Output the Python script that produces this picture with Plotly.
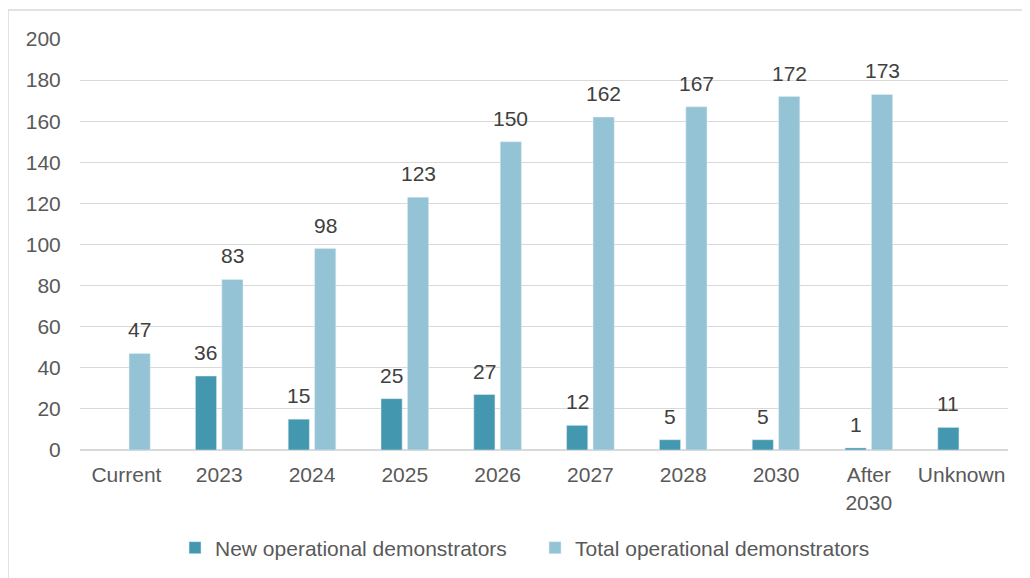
import plotly.graph_objects as go

categories = ["Current", "2023", "2024", "2025", "2026", "2027", "2028", "2030", "After<br>2030", "Unknown"]
new_demo = [None, 36, 15, 25, 27, 12, 5, 5, 1, 11]
total_demo = [47, 83, 98, 123, 150, 162, 167, 172, 173, None]

FONT = "Liberation Sans, Arial, sans-serif"
TEXT_COLOR = "#404040"
AXIS_COLOR = "#595959"
GRID = "#D9D9D9"

fig = go.Figure()

fig.add_trace(go.Bar(
    x=categories, y=new_demo, name="New operational demonstrators",
    marker_color="#4397AF",
))
fig.add_trace(go.Bar(
    x=categories, y=total_demo, name="Total operational demonstrators",
    marker_color="#93C3D4",
))

# value labels above each bar (category index, offset to the grouped bar)
annotations = []
for values, shift in [(new_demo, -13.3), (total_demo, 13.3)]:
    for i, val in enumerate(values):
        if val is None:
            continue
        annotations.append(dict(
            x=i, y=val, xref="x", yref="y", text=str(val), showarrow=False,
            xshift=shift, yshift=10, yanchor="bottom",
            font=dict(size=21, color=TEXT_COLOR, family=FONT),
        ))

# page body adds an 8px margin, so the figure is sized 8px smaller
fig.update_layout(
    width=1022, height=570,
    margin=dict(l=72, r=22, t=31, b=128, autoexpand=False),
    barmode="group", bargap=0.43, bargroupgap=0.2,
    plot_bgcolor="white", paper_bgcolor="white",
    font=dict(family=FONT, size=21, color=AXIS_COLOR),
    showlegend=True,
    legend=dict(
        orientation="h", x=0.1024, xanchor="left", y=-0.2384, yanchor="middle",
        font=dict(size=21, color=AXIS_COLOR), itemwidth=30, traceorder="normal",
        entrywidth=315, entrywidthmode="pixels",
    ),
    annotations=annotations,
    shapes=[dict(
        type="rect", xref="paper", yref="paper",
        x0=-0.0776, x1=1.03, y0=-0.32, y1=1.0706,
        line=dict(color=GRID, width=1.5), fillcolor="rgba(0,0,0,0)", layer="below",
    )],
)

fig.update_yaxes(
    range=[0, 200], dtick=20, showgrid=True, gridcolor=GRID, gridwidth=1,
    zeroline=True, zerolinecolor=GRID, showline=False,
    ticks="outside", ticklen=14, tickcolor="rgba(0,0,0,0)",
    tickfont=dict(size=21, color=AXIS_COLOR),
)
fig.update_xaxes(
    type="category", range=[-0.5, len(categories) - 0.5],
    showline=True, linecolor=GRID, linewidth=1,
    ticks="outside", ticklen=6, tickcolor="rgba(0,0,0,0)",
    tickfont=dict(size=21, color=AXIS_COLOR),
)

fig.write_html("out.html")
